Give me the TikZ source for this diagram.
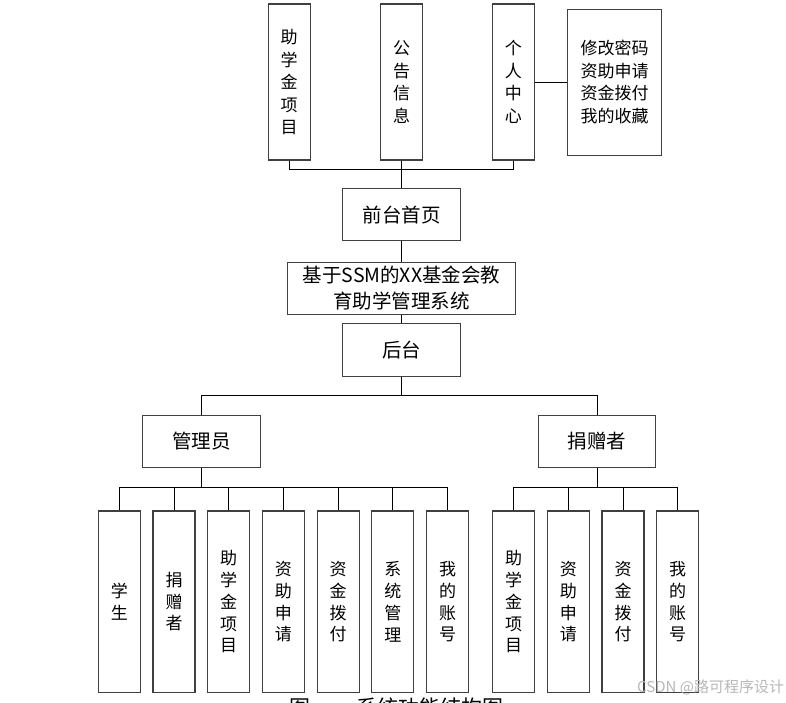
\documentclass[tikz,border=0pt]{standalone}
\usepackage{fontspec}
\newfontfamily\cjk{Noto Sans CJK SC}
\begin{document}
\begin{tikzpicture}[x=1pt,y=-1pt,
  box/.style={draw=black!75, line width=1.1pt, rectangle, inner sep=0pt, text=black},
  vbox/.style={box, minimum width=41.7pt, align=center, font={\cjk\fontsize{17}{22.5}\selectfont}},
  cbox/.style={box, minimum width=42pt, minimum height=181.5pt, align=center, font={\cjk\fontsize{17}{21.8}\selectfont}},
  mbox/.style={box, minimum width=117.6pt, minimum height=52.4pt, font={\cjk\fontsize{19.5}{24}\selectfont}},
  conn/.style={draw=black, line width=1pt}
]
\fill[white] (0,0) rectangle (786,702);
\useasboundingbox (0,0) rectangle (786,702);

% top row
\node[vbox, minimum height=156pt] (p1) at (289.2,82) {助\\学\\金\\项\\目};
\node[vbox, minimum height=156pt] (p2) at (401.5,82) {公\\告\\信\\息};
\node[vbox, minimum height=156pt] (p3) at (513.3,82) {个\\人\\中\\心};
\node[box, minimum width=93.6pt, minimum height=145.7pt, align=center,
      font={\cjk\fontsize{17}{22.5}\selectfont}] (p4) at (614.5,82.2)
      {修改密码\\资助申请\\资金拨付\\我的收藏};

% middle
\node[mbox] (home) at (401.5,214.6) {前台首页};
\node[box, minimum width=228.4pt, minimum height=52.4pt, align=center,
      font={\cjk\fontsize{19.5}{26}\selectfont}] (title) at (401.5,288.5)
      {基于SSM的XX基金会教\\育助学管理系统};
\node[mbox] (back) at (401.5,350) {后台};
\node[mbox] (admin) at (201.5,441.5) {管理员};
\node[mbox, minimum width=117pt] (donor) at (597.2,441.3) {捐赠者};

% admin children
\node[cbox] (a1) at (119.3,601.7) {学\\生};
\node[cbox] (a2) at (174.0,601.7) {捐\\赠\\者};
\node[cbox] (a3) at (228.7,601.7) {助\\学\\金\\项\\目};
\node[cbox] (a4) at (283.4,601.7) {资\\助\\申\\请};
\node[cbox] (a5) at (338.1,601.7) {资\\金\\拨\\付};
\node[cbox] (a6) at (392.8,601.7) {系\\统\\管\\理};
\node[cbox] (a7) at (447.5,601.7) {我\\的\\账\\号};

% donor children
\node[cbox] (d1) at (513.5,601.7) {助\\学\\金\\项\\目};
\node[cbox] (d2) at (568.3,601.7) {资\\助\\申\\请};
\node[cbox] (d3) at (623.0,601.7) {资\\金\\拨\\付};
\node[cbox] (d4) at (677.7,601.7) {我\\的\\账\\号};

% connectors
\coordinate (tb) at (401.5,169.3);
\draw[conn] (p1.south) |- (tb) -| (p3.south);
\draw[conn] (p2.south) -- (home.north);
\draw[conn] (p3.east) -- (p3.east -| p4.west);
\draw[conn] (home.south) -- (title.north);
\draw[conn] (title.south) -- (back.north);
\coordinate (mb) at (401.5,395.7);
\draw[conn] (back.south) -- (mb);
\draw[conn] (admin.north) |- (mb) -| (donor.north);
\coordinate (ab) at (201.5,487);
\draw[conn] (admin.south) -- (ab);
\draw[conn] (a1.north) |- (ab) -| (a7.north);
\foreach \i in {2,...,6} { \draw[conn] (a\i.north) -- (a\i.north |- ab); }
\coordinate (db) at (597.2,487);
\draw[conn] (donor.south) -- (db);
\draw[conn] (d1.north) |- (db) -| (d4.north);
\foreach \i in {2,3} { \draw[conn] (d\i.north) -- (d\i.north |- db); }

% watermark
\node[anchor=west, inner sep=0pt, text=black!28, font={\cjk\fontsize{15}{15}\selectfont}] (wm) at (637,687.5) {CSDN @路可程序设计};

% caption (cut off at the bottom)
\begin{scope}
\clip (0,0) rectangle (786,702);
\node[anchor=base west, inner sep=0pt, font={\cjk\fontsize{21}{21}\selectfont}] (cap) at (289,715.7) {图\hspace{46pt}系统功能结构图};
\end{scope}
\end{tikzpicture}
\end{document}
